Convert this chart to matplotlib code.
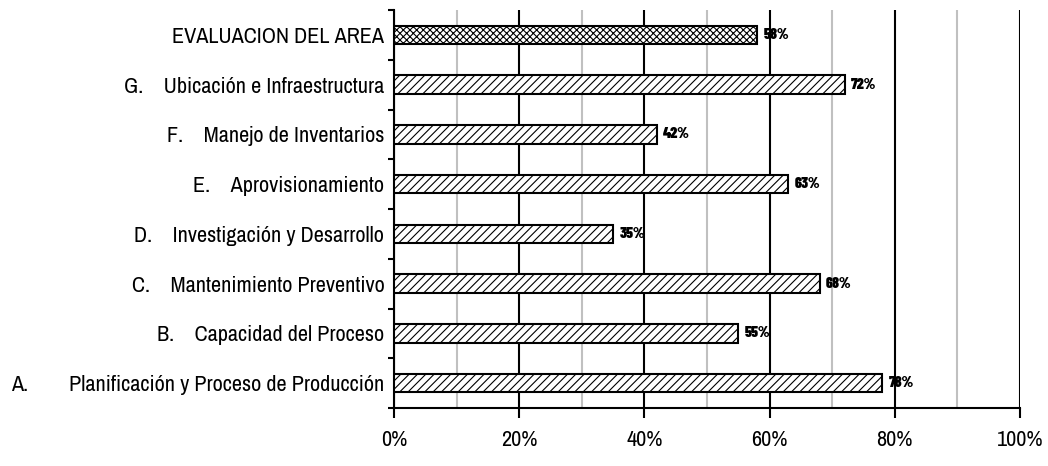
import matplotlib
matplotlib.use("Agg")
import matplotlib.pyplot as plt
from matplotlib.ticker import MultipleLocator, PercentFormatter

# categories listed bottom to top
labels = [
    "A.        Planificación y Proceso de Producción",
    "B.    Capacidad del Proceso",
    "C.    Mantenimiento Preventivo",
    "D.    Investigación y Desarrollo",
    "E.    Aprovisionamiento",
    "F.    Manejo de Inventarios",
    "G.    Ubicación e Infraestructura",
    "EVALUACION DEL AREA",
]
values = [78, 55, 68, 35, 63, 42, 72, 58]
hatches = ["////"] * 7 + ["xxxxx"]

plt.rcParams["font.family"] = ["Archivo Narrow", "DejaVu Sans"]
plt.rcParams["hatch.linewidth"] = 0.8

fig = plt.figure(figsize=(10.48, 4.66), dpi=100)
ax = fig.add_axes([394 / 1048, 1 - 408 / 466, 626 / 1048, 398 / 466])

ypos = list(range(len(values)))
for y, v, h in zip(ypos, values, hatches):
    ax.barh(y, v, height=0.37, color="white", edgecolor="black",
            linewidth=1.5, hatch=h, zorder=3)
    ax.text(v + 1.0, y, f"{v}%", va="center", ha="left",
            fontsize=11, fontweight="black", zorder=4,
            family=["Barlow Condensed", "DejaVu Sans"])

ax.set_xlim(0, 100)
ax.set_ylim(-0.5, len(values) - 0.5)

ax.xaxis.set_major_locator(MultipleLocator(20))
ax.xaxis.set_minor_locator(MultipleLocator(10))
ax.xaxis.set_major_formatter(PercentFormatter(decimals=0))
ax.grid(which="major", axis="x", color="black", linewidth=1.5, zorder=1)
ax.grid(which="minor", axis="x", color="#c0c0c0", linewidth=1.5, zorder=1)

# category labels at centres, tick marks at boundaries
ax.set_yticks(ypos)
ax.set_yticklabels(labels, fontsize=16)
ax.tick_params(axis="y", which="major", length=0, pad=7)
ax.set_yticks([i - 0.5 for i in range(len(values) + 1)], minor=True)
ax.tick_params(axis="y", which="minor", length=4, width=1.5, direction="out")

ax.tick_params(axis="x", which="major", length=7, width=1.5,
               direction="out", labelsize=16, pad=9)
ax.tick_params(axis="x", which="minor", length=0)

for side in ("top", "right"):
    ax.spines[side].set_visible(False)
for side in ("left", "bottom"):
    ax.spines[side].set_linewidth(1.5)

fig.savefig("out.png", dpi=100)
